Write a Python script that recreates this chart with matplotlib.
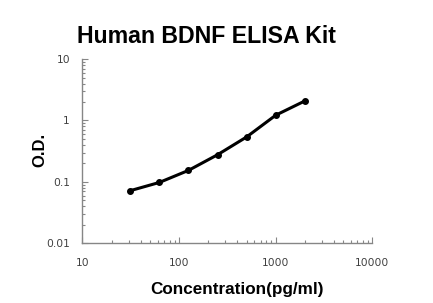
import matplotlib
matplotlib.use('Agg')
import matplotlib.pyplot as plt
from matplotlib.ticker import LogLocator, FixedFormatter, FixedLocator, NullFormatter

# standard curve data
conc = [31.25, 62.5, 125, 250, 500, 1000, 2000]
od = [0.072, 0.098, 0.154, 0.277, 0.54, 1.22, 2.08]

x_ticks = [10, 100, 1000, 10000]
x_labels = ['10', '100', '1000', '10000']
y_ticks = [0.01, 0.1, 1, 10]
y_labels = ['0.01', '0.1', '1', '10']

fig = plt.figure(figsize=(4.33, 3.03), dpi=100)
ax = fig.add_axes([0.1905, 0.197, 0.6695, 0.608])

ax.plot(conc, od, color='black', lw=2.2, marker='o', ms=4,
        solid_joinstyle='round', solid_capstyle='round')

ax.set_xscale('log')
ax.set_yscale('log')
ax.set_xlim(10, 10000)
ax.set_ylim(0.01, 10)

ax.xaxis.set_major_locator(FixedLocator(x_ticks))
ax.xaxis.set_major_formatter(FixedFormatter(x_labels))
ax.yaxis.set_major_locator(FixedLocator(y_ticks))
ax.yaxis.set_major_formatter(FixedFormatter(y_labels))
ax.xaxis.set_minor_locator(LogLocator(base=10, subs=range(2, 10)))
ax.yaxis.set_minor_locator(LogLocator(base=10, subs=range(2, 10)))
ax.xaxis.set_minor_formatter(NullFormatter())
ax.yaxis.set_minor_formatter(NullFormatter())

spine_c = '#868686'
for s in ['top', 'right']:
    ax.spines[s].set_visible(False)
for s in ['left', 'bottom']:
    ax.spines[s].set_color(spine_c)
    ax.spines[s].set_linewidth(1)

ax.tick_params(which='major', direction='in', length=4, width=0.8, color=spine_c,
               labelsize=7.7, labelcolor='#404040')
ax.tick_params(which='minor', direction='in', length=2.5, width=0.8, color=spine_c)
ax.tick_params(axis='y', which='major', pad=9)
ax.tick_params(axis='x', which='major', pad=10.5)

ax.set_xlabel('Concentration(pg/ml)', family='Liberation Sans', fontweight='bold',
              fontsize=12.3)
ax.xaxis.set_label_coords(0.5345, -0.21)
ax.set_ylabel('O.D.', family='Liberation Sans', fontweight='bold', fontsize=12)
ax.yaxis.set_label_coords(-0.12, 0.505)
fig.text(0.476, 0.879, 'Human BDNF ELISA Kit', family='Liberation Sans',
         fontweight='bold', fontsize=16.7, ha='center', va='center')

fig.savefig('out.png', dpi=100)
